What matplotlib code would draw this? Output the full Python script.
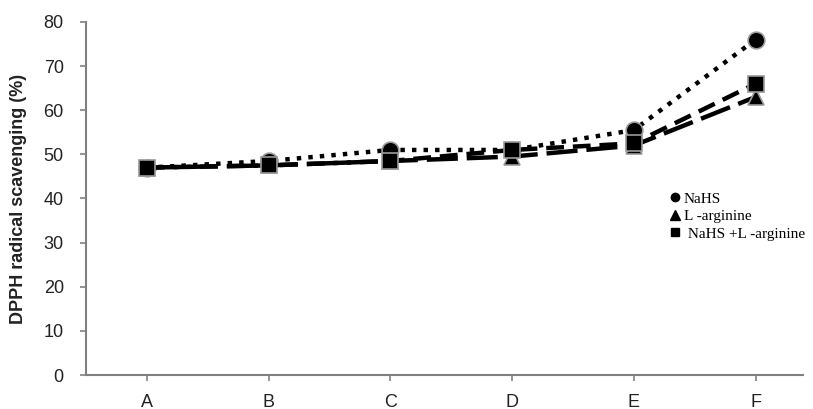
import numpy as np
import matplotlib.pyplot as plt
from matplotlib.lines import Line2D

# Data
categories = ['A', 'B', 'C', 'D', 'E', 'F']
nahs = [47, 48.5, 51, 51, 55.5, 76]
arginine = [47, 47.5, 48.5, 49.5, 52, 63]
combo = [47, 47.5, 48.5, 51, 52.5, 66]
series_labels = ['NaHS', 'L -arginine', ' NaHS +L -arginine']

plt.rcParams['font.family'] = ['Liberation Sans', 'DejaVu Sans']

fig = plt.figure(figsize=(8.13, 4.09), dpi=100)
ax = fig.add_axes([86 / 813, 34 / 409, 717 / 813, 353 / 409])

x = np.arange(len(categories))
edge = '#9a9a9a'

ax.plot(x, nahs, color='black', linestyle=(0, (1, 1.6)), linewidth=3.2,
        marker='o', markersize=12, markerfacecolor='black', markeredgecolor=edge,
        markeredgewidth=1.2, zorder=3)
ax.plot(x, arginine, color='black', linestyle=(0, (7, 2)), linewidth=3.2,
        marker='^', markersize=12, markerfacecolor='black', markeredgecolor=edge,
        markeredgewidth=1.2, zorder=4)
ax.plot(x, combo, color='black', linestyle=(0, (4, 2)), linewidth=3.2,
        marker='s', markersize=11, markerfacecolor='black', markeredgecolor=edge,
        markeredgewidth=1.2, zorder=5)

ax.set_xlim(-0.5, 5.39)
ax.set_ylim(0, 80)
ax.set_yticks(np.arange(0, 81, 10))
ax.set_xticks(x)
ax.set_xticklabels(categories)

for side in ['top', 'right']:
    ax.spines[side].set_visible(False)
for side in ['left', 'bottom']:
    ax.spines[side].set_color('#808080')
    ax.spines[side].set_linewidth(1.5)

ax.tick_params(axis='both', direction='out', color='#808080', width=1.2,
               length=4, labelsize=13, labelcolor='#222222')
ax.tick_params(axis='y', pad=12)
ax.tick_params(axis='x', pad=10)

ax.set_ylabel('DPPH radical scavenging (%)', fontsize=13, fontweight='bold',
              color='#222222', labelpad=12)

# Legend with markers only
handles = [
    Line2D([], [], linestyle='none', marker='o', color='black', markersize=6),
    Line2D([], [], linestyle='none', marker='^', color='black', markersize=7),
    Line2D([], [], linestyle='none', marker='s', color='black', markersize=6),
]
ax.legend(handles, series_labels, loc='upper left', bbox_to_anchor=(0.805, 0.54),
          frameon=False, handlelength=0.6, handletextpad=0.25, labelspacing=0.25,
          borderpad=0, prop={'family': 'Liberation Serif', 'size': 11})

fig.savefig('out.png', dpi=100)
